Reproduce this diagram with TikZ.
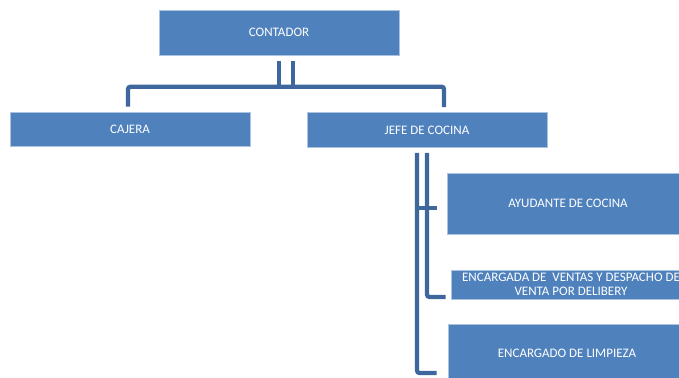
\documentclass[tikz,border=0pt]{standalone}
\usepackage{fontspec}
\setmainfont{Carlito}
\usetikzlibrary{calc}
\definecolor{boxblue}{RGB}{79,129,189}
\definecolor{boxedge}{RGB}{170,195,225}
\definecolor{linkblue}{RGB}{62,103,158}
\begin{document}
\begin{tikzpicture}[x=1pt,y=-1pt,
  orgbox/.style={rectangle,fill=boxblue,draw=boxedge,line width=0.6pt,inner sep=0pt,
    text=white,font=\fontsize{13}{14}\selectfont,align=center},
  link/.style={draw=linkblue,line width=4.3pt,rounded corners=2.5pt}]
\useasboundingbox (0,0) rectangle (679,377);
\node[orgbox,minimum width=240pt,minimum height=45pt] (contador) at (279,32.5) {CONTADOR};
\node[orgbox,minimum width=240pt,minimum height=34pt] (cajera) at (130,129) {CAJERA};
\node[orgbox,minimum width=240pt,minimum height=35pt] (jefe) at (427,130) {JEFE DE COCINA};
\node[orgbox,minimum width=242pt,minimum height=61pt] (ayudante) at (568,203.5) {AYUDANTE DE COCINA};
\node[orgbox,minimum width=240pt,minimum height=29pt] (encargada) at (571,284.5) {ENCARGADA DE\ \ VENTAS Y DESPACHO DE\\VENTA POR DELIBERY};
\node[orgbox,minimum width=238pt,minimum height=58pt] (limpieza) at (567,353) {ENCARGADO DE LIMPIEZA};
% contador to cajera / jefe
\draw[link,rounded corners=0pt] ($(contador.south)+(0,6)$) -- ++(0,28);
\draw[link,rounded corners=0pt] ($(contador.south)+(14,6)$) -- ++(0,28);
\draw[link] ($(cajera.north)+(-2,-5)$) -- ++(0,-20) -| ($(jefe.north)+(17,-5)$);
% jefe to subordinates
\draw[link] ($(jefe.south)+(-10,5)$) |- ($(limpieza.west)+(-11,20)$);
\draw[link] ($(jefe.south)+(0,5)$) |- ($(encargada.west)+(-5,12.5)$);
\draw[link,rounded corners=0pt] ($(ayudante.west)+(-30,4.5)$) -- ($(ayudante.west)+(-10,4.5)$);
\end{tikzpicture}
\end{document}
